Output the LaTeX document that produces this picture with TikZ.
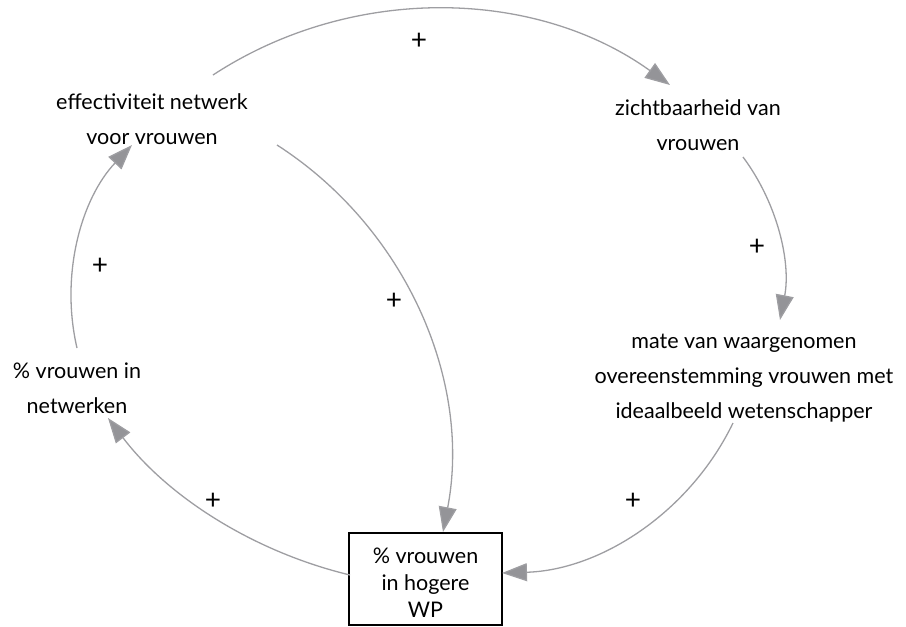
\documentclass[tikz,border=0pt]{standalone}
\usepackage{fontspec}
\setmainfont{Lato}
\usetikzlibrary{arrows.meta}
\definecolor{linkgray}{RGB}{158,158,162}
\definecolor{headgray}{RGB}{148,148,152}

\begin{document}
\begin{tikzpicture}[x=1pt,y=-1pt]
\tikzstyle{every node}=[inner sep=0pt, align=center, font=\fontsize{21.5}{35}\selectfont]
\tikzstyle{sign}=[font=\fontsize{28}{28}\selectfont]
\tikzstyle{link}=[draw=linkgray, line width=1.3pt, -{Triangle[length=25pt,width=18pt,fill=headgray]}]
\useasboundingbox (0,0) rectangle (906,627);
\draw (152,119) node (eff) {effectiviteit netwerk\\voor vrouwen};
\draw (698,125) node (zicht) {zichtbaarheid van\\vrouwen};
\draw (744,378) node (mate) {mate van waargenomen\\overeenstemming vrouwen met\\ideaalbeeld wetenschapper};
\draw (77,388) node (netw) {\% vrouwen in\\netwerken};
\draw (425.5,579) node (wp) [draw, line width=1.3pt, minimum width=153pt, minimum height=92pt,
  font=\fontsize{21.5}{27}\selectfont] {\rule{0pt}{22pt}\% vrouwen\\in hogere\\WP};
\draw (419,41) node (s1) [sign] {+};
\draw (757,247) node (s2) [sign] {+};
\draw (633,501) node (s3) [sign] {+};
\draw (213,501) node (s4) [sign] {+};
\draw (100,266) node (s5) [sign] {+};
\draw (394,301) node (s6) [sign] {+};
\draw[link] ([shift={(61,-44)}]eff.center) .. controls (352,-16) and (535,-12) .. ([shift={(-28,-40)}]zicht.center);
\draw[link] ([shift={(45,32)}]zicht.center) .. controls (778,204) and (791,263) .. ([shift={(36,-58)}]mate.center);
\draw[link] ([shift={(-11,45)}]mate.center) .. controls (690,512) and (601,570) .. ([shift={(76.5,-6)}]wp.center);
\draw[link] ([shift={(-75.5,-4)}]wp.center) .. controls (254,552) and (168,497) .. ([shift={(31,30)}]netw.center);
\draw[link] ([shift={(0,-40)}]netw.center) .. controls (60,275) and (81,199) .. ([shift={(-20,26)}]eff.center);
\draw[link] ([shift={(125,26)}]eff.center) .. controls (406,228) and (472,381) .. ([shift={(17.5,-47)}]wp.center);
\end{tikzpicture}
\end{document}
